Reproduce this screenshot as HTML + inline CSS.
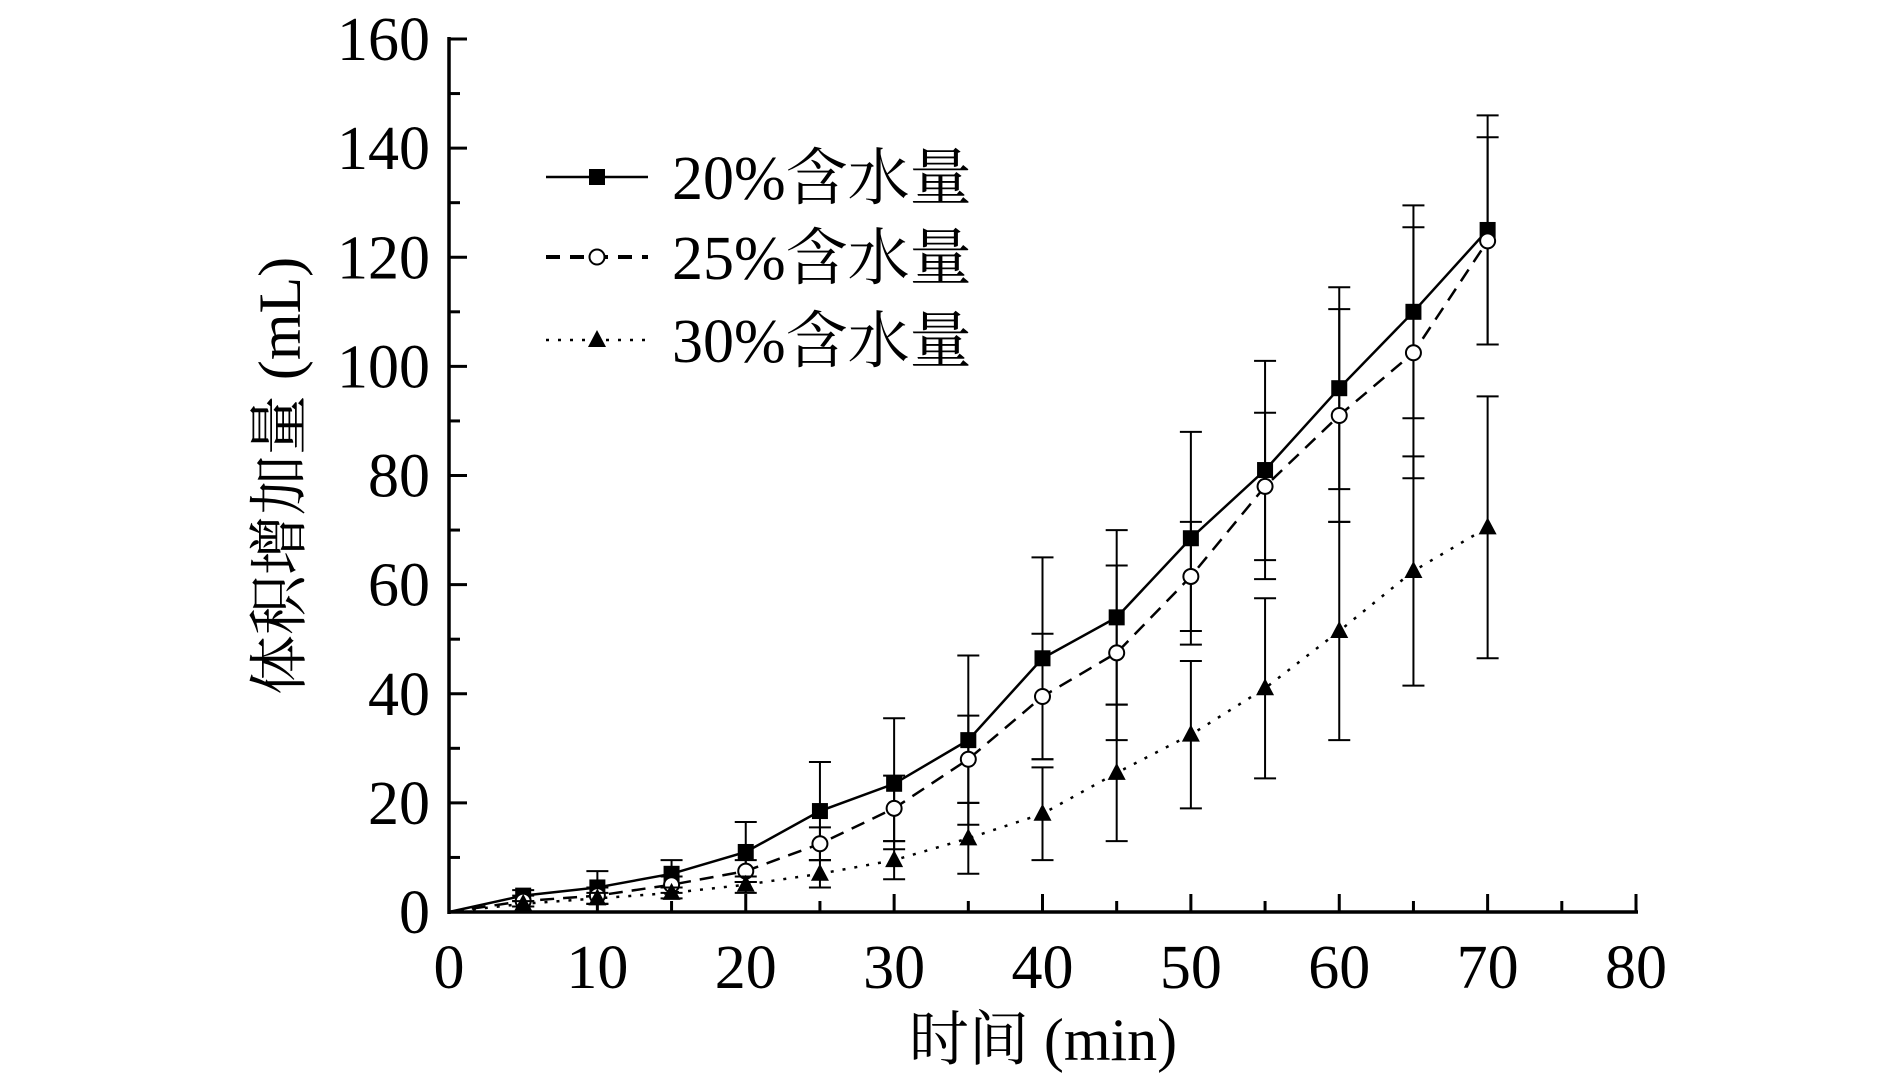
<!DOCTYPE html>
<html><head><meta charset="utf-8">
<style>
html,body{margin:0;padding:0;background:#fff;}
svg{display:block;}
text{font-family:"Liberation Serif","Noto Serif CJK SC",serif;fill:#000;}
</style></head>
<body>
<svg id="chart" width="1890" height="1076" viewBox="0 0 1890 1076" xmlns="http://www.w3.org/2000/svg">
<g id="axes"></g>
<g id="series"></g>
<g id="legend"></g>
<text transform="translate(300,476) rotate(-90)" text-anchor="middle" font-size="60">体积增加量 (mL)</text>
<text x="1043" y="1060" text-anchor="middle" font-size="60">时间 (min)</text>
</svg>
<script>
const times = [0,5,10,15,20,25,30,35,40,45,50,55,60,65,70];
const s20 = [0,3,4.5,7,11,18.5,23.5,31.5,46.5,54,68.5,81,96,110,125];
const e20 = [0,1,3,2.5,5.5,9,12,15.5,18.5,16,19.5,20,18.5,19.5,21];
const s25 = [0,2,3,5,7.5,12.5,19,28,39.5,47.5,61.5,78,91,102.5,123];
const e25 = [0,1,1.5,1.5,2,3,6,8,11.5,16,10,13.5,19.5,23,19];
const s30 = [0,1.5,2.5,3.5,5,7,9.5,13.5,18,25.5,32.5,41,51.5,62.5,70.5];
const e30 = [0,0.5,1,1,1.5,2.5,3.5,6.5,8.5,12.5,13.5,16.5,20,21,24];
const xTicks = [0,10,20,30,40,50,60,70,80];
const yTicks = [0,20,40,60,80,100,120,140,160];
const legendLabels = ["20%含水量","25%含水量","30%含水量"];

const X0=449,X1=1636,Y0=912,Y1=39;
const sx=v=>X0+(v-0)/(80-0)*(X1-X0);
const sy=v=>Y0-(v-0)/(160-0)*(Y0-Y1);
const NS="http://www.w3.org/2000/svg";
function mk(tag,attrs,parent){const e=document.createElementNS(NS,tag);for(const k in attrs)e.setAttribute(k,attrs[k]);parent.appendChild(e);return e;}
const axes=document.getElementById('axes');
let el;
el=mk('line',{x1:X0,y1:Y0,x2:X1+2,y2:Y0,stroke:'#000','stroke-width':3.5},axes);


el=mk('line',{x1:X0,y1:Y0+2,x2:X0,y2:Y1-2,stroke:'#000','stroke-width':3.5},axes);


for(let v=0;v<=80;v+=5){
  const major=v%10===0;
  el=mk('line',{x1:sx(v),y1:Y0,x2:sx(v),y2:Y0-(major?18:11),stroke:'#000','stroke-width':3},axes);
  
  
}
for(let v=0;v<=160;v+=10){
  const major=v%20===0;
  el=mk('line',{x1:X0,y1:sy(v),x2:X0+(major?18:11),y2:sy(v),stroke:'#000','stroke-width':3},axes);
  
  
}
xTicks.forEach(v=>{
  el=mk('text',{x:sx(v),y:988,'text-anchor':'middle','font-size':62},axes);
  el.textContent=v;
  
  
});
yTicks.forEach(v=>{
  el=mk('text',{x:430,y:sy(v)+21,'text-anchor':'end','font-size':62},axes);
  el.textContent=v;
  
  
});

const series=document.getElementById('series');
const defs=[
  {vals:s20,err:e20,dash:'',w:2.5,marker:'square',name:'series-20'},
  {vals:s25,err:e25,dash:'14,9',w:2.5,marker:'circle',name:'series-25'},
  {vals:s30,err:e30,dash:'3,9',w:2.5,marker:'triangle',name:'series-30'}
];
function marker(type,x,y,parent){
  let m;
  if(type==='square') m=mk('rect',{x:x-8,y:y-8,width:16,height:16,fill:'#000'},parent);
  else if(type==='circle') m=mk('circle',{cx:x,cy:y,r:7.5,fill:'#fff',stroke:'#000','stroke-width':2},parent);
  else m=mk('polygon',{points:`${x},${y-10} ${x+9},${y+7} ${x-9},${y+7}`,fill:'#000'},parent);
  return m;
}
defs.forEach(d=>{
  const g=mk('g',{},series);
  
  
  times.forEach((t,i)=>{
    if(d.err[i]<=0) return;
    const x=sx(t),yt=sy(d.vals[i]+d.err[i]),yb=sy(Math.max(0,d.vals[i]-d.err[i]));
    el=mk('path',{d:`M${x},${yt}V${yb}M${x-11},${yt}H${x+11}M${x-11},${yb}H${x+11}`,stroke:'#000','stroke-width':2,fill:'none'},g);
    
    
  });
  const pts=times.map((t,i)=>sx(t)+','+sy(d.vals[i])).join(' ');
  el=mk('polyline',{points:pts,fill:'none',stroke:'#000','stroke-width':d.w,'stroke-dasharray':d.dash},g);
  
  
  times.forEach((t,i)=>{
    if(i===0) return;
    el=marker(d.marker,sx(t),sy(d.vals[i]),g);
    
    
  });
});

const legend=document.getElementById('legend');
const rowsY=[177,257,340];
defs.forEach((d,i)=>{
  const g=mk('g',{},legend);
  
  
  const y=rowsY[i];
  mk('line',{x1:546,y1:y,x2:648,y2:y,stroke:'#000','stroke-width':i===1?4:2.5,'stroke-dasharray':i===1?'14,10':(i===2?'3,9':'')},g);
  marker(d.marker,597,y,g);
  const t=mk('text',{x:672,y:y+22,'font-size':62},g);
  t.textContent=legendLabels[i];
});
</script>
</body></html>
